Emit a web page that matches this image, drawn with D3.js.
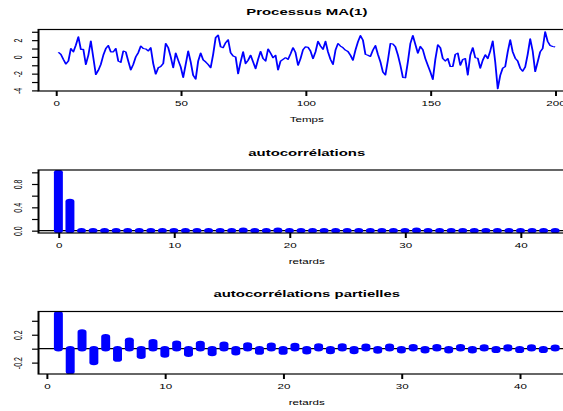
<!DOCTYPE html>
<html>
<head>
<meta charset="utf-8">
<script src="https://cdn.jsdelivr.net/npm/d3@7"></script>
<style>
  body { margin: 0; background: #fff; }
  svg { display: block; }
  text { font-family: "Liberation Sans", Arial, Helvetica, sans-serif; fill: #000; }
</style>
</head>
<body>
<svg id="fig"></svg>
<script>
// ---- data ----
const serie = [
   0.55,  0.3, -0.3, -0.85, -0.5,  1.0,  0.6,  1.4,  2.4,  0.9,
   0.9, -0.9,  0.2,  1.9, -0.1, -2.1, -1.6, -0.9,  0.2,  1.0,
   1.35, 0.6,  0.6,  1.0, -0.5, -0.65, 0.7,  0.6, -0.5, -1.55,
  -0.9,  0.0,  0.5,  1.3,  1.0,  0.95, 0.7,  1.1, -0.8, -2.05,
  -1.3, -1.15, -0.8, 1.6,  1.1,  0.0, -1.3,  0.45, -0.4, -1.2,
  -2.45, -0.9, 0.7, -0.6, -2.2, -2.65, -0.5, 0.45, -0.35, -0.6,
  -0.9, -1.3,  0.3,  2.3,  2.6,  1.2,  1.1,  1.7,  2.05, 0.5,
   0.1,  0.0, -2.0, -0.6,  0.6, -0.8, -0.4,  0.2, -0.6, -1.4,
  -0.3,  0.65, -0.2, -0.5, 0.95, 0.45, -0.1, 0.2, -1.55, -0.5,
  -0.3, -0.1, -0.3,  0.35, 1.1,  0.5, -1.0, -0.2,  0.85, 1.2,
   1.15, 0.7, -0.2,  0.6,  1.85, 1.3,  0.9,  1.85, 0.6, -0.3,
  -0.9,  0.8,  1.6,  1.3,  1.1,  0.8,  0.65, 0.2, -0.4,  0.8,
   1.8,  2.55, 2.0,  0.3,  0.2,  0.05, 0.8,  1.35, 0.3, -0.6,
  -1.8, -2.15, -0.4, 1.6,  1.55, 1.2,  0.25, -1.0, -2.45, -2.5,
  -0.6,  1.6,  2.55, 1.5,  0.45, 1.25, 0.85, -0.2, -1.0, -1.8,
  -2.7, -0.3,  1.45, 1.1, -0.2, -0.5, -0.2, -1.15, -1.15, 0.3,
   0.45, -1.0, -0.3, -0.2, -2.15, 0.2, 1.1, -0.1, -0.15, -1.35,
  -0.4,  0.25, -0.2, 0.7,  1.9, -0.6, -3.8, -2.2, -1.35, -1.15,
   0.6,  2.05, 0.6, -0.15, -0.5, -1.35, -1.7, -1.2, 0.3,  2.15,
   0.7, -1.75, -0.6, 0.6,  1.0,  3.0,  1.85, 1.35, 1.25, 1.2
];
const temps = d3.range(1, serie.length + 1);

const acfLags = d3.range(0, 44);
const acfVals = [
  1, 0.5, 0, 0, 0, 0, 0, 0, 0, 0,
  0, 0, 0, 0, 0, 0, 0.01, 0, 0, 0.01,
  0, 0, 0, 0, 0, 0, 0, 0, 0, 0,
  0, 0.01, 0, 0, 0, 0, 0, 0, 0, 0,
  0, 0, 0, 0
];

const pacfLags = d3.range(1, 44);
const pacfVals = [
  0.5, -0.33, 0.24, -0.2, 0.17, -0.15, 0.12, -0.11, 0.1, -0.09,
  0.08, -0.08, 0.075, -0.07, 0.065, -0.06, 0.055, -0.05, 0.05, -0.05,
  0.045, -0.045, 0.04, -0.04, 0.04, -0.04, 0.035, -0.035, 0.035, -0.03,
  0.03, -0.03, 0.03, -0.03, 0.03, -0.03, 0.025, -0.025, 0.025, -0.025,
  0.025, -0.025, 0.02
];

const tempsTicks = [0, 50, 100, 150, 200];
const lagTicks = [0, 10, 20, 30, 40];
const serieYTicks = [-4, -3, -2, -1, 0, 1, 2, 3];
const serieYLabels = [-4, -2, 0, 2];
const acfYTicks = [0, 0.2, 0.4, 0.6, 0.8, 1];
const acfYLabels = [0, 0.4, 0.8];
const pacfYTicks = [-0.2, 0, 0.2, 0.4];
const pacfYLabels = [-0.2, 0.2];

// ---- layout (the picture is stretched sideways, so draw narrow and stretch) ----
const S = 1.66;
const W = 563 / S, H = 411;
const left = 23.2, right = 346.4;

const svg = d3.select('#fig')
  .attr('width', 563)
  .attr('height', H)
  .attr('viewBox', `0 0 ${W} ${H}`)
  .attr('preserveAspectRatio', 'none');

function padded(ext) {
  const p = (ext[1] - ext[0]) * 0.04;
  return [ext[0] - p, ext[1] + p];
}

function panel(cfg) {
  const g = svg.append('g');

  const x = d3.scaleLinear().domain(padded(d3.extent(cfg.xs))).range([left, right]);
  const y = d3.scaleLinear().domain(padded(d3.extent(cfg.yExt))).range([cfg.bottom, cfg.top]);

  svg.append('clipPath').attr('id', 'clip' + cfg.id)
    .append('rect')
    .attr('x', left).attr('y', cfg.top)
    .attr('width', right - left).attr('height', cfg.bottom - cfg.top);

  const plot = g.append('g').attr('clip-path', `url(#clip${cfg.id})`);

  if (cfg.type === 'line') {
    const line = d3.line().x((d, i) => x(cfg.xs[i])).y(d => y(d));
    plot.append('path')
      .datum(cfg.ys)
      .attr('fill', 'none')
      .attr('stroke', '#0000ff')
      .attr('stroke-width', 1.1)
      .attr('stroke-linejoin', 'round')
      .attr('d', line);
  } else {
    plot.append('line')
      .attr('x1', left).attr('x2', right)
      .attr('y1', y(0)).attr('y2', y(0))
      .attr('stroke', '#000').attr('stroke-width', 1.2);
    plot.selectAll('line.bar')
      .data(cfg.ys)
      .join('line')
      .attr('class', 'bar')
      .attr('x1', (d, i) => x(cfg.xs[i]))
      .attr('x2', (d, i) => x(cfg.xs[i]))
      .attr('y1', y(0))
      .attr('y2', d => y(d))
      .attr('stroke', '#0000ff')
      .attr('stroke-width', 5.4)
      .attr('stroke-linecap', 'round');
  }

  // box
  g.append('rect')
    .attr('x', left).attr('y', cfg.top)
    .attr('width', right - left).attr('height', cfg.bottom - cfg.top)
    .attr('fill', 'none').attr('stroke', '#000').attr('stroke-width', 1.2);

  // x axis
  const xa = g.append('g')
    .attr('transform', `translate(0,${cfg.bottom})`)
    .call(d3.axisBottom(x).tickValues(cfg.xTicks).tickSize(5).tickPadding(5.5).tickFormat(d => String(d)));
  xa.select('.domain').remove();
  xa.selectAll('line').attr('stroke', '#000').attr('stroke-width', 1.2);
  xa.selectAll('text').attr('font-size', 7).attr('font-family', null);

  // y axis, labels turned like R
  const ya = g.append('g')
    .attr('transform', `translate(${left},0)`)
    .call(d3.axisLeft(y).tickValues(cfg.yTicks).tickSize(3.9)
      .tickFormat(d => cfg.yLabels.includes(d) ? cfg.fmt(d) : ''));
  ya.select('.domain').remove();
  ya.selectAll('line').attr('stroke', '#000').attr('stroke-width', 1.2);
  ya.selectAll('text')
    .attr('x', 0).attr('y', 0)
    .attr('dy', '0.35em')
    .attr('text-anchor', 'middle')
    .attr('transform', 'translate(-12.4,0) rotate(-90)')
    .attr('font-size', 7).attr('font-family', null);

  // titles
  g.append('text')
    .attr('x', (left + right) / 2).attr('y', cfg.top - 17.5)
    .attr('dy', '0.35em').attr('text-anchor', 'middle')
    .attr('font-size', 9).attr('font-weight', 'bold')
    .text(cfg.title);
  g.append('text')
    .attr('x', (left + right) / 2).attr('y', cfg.bottom + 28.5)
    .attr('dy', '0.35em').attr('text-anchor', 'middle')
    .attr('font-size', 7)
    .text(cfg.xlab);
}

const fmt1 = d => d.toFixed(1);

panel({
  id: 1, type: 'line', top: 29.5, bottom: 91,
  xs: temps, ys: serie, yExt: serie,
  xTicks: tempsTicks, yTicks: serieYTicks, yLabels: serieYLabels, fmt: d => String(d),
  title: 'Processus MA(1)', xlab: 'Temps'
});

panel({
  id: 2, type: 'bar', top: 170, bottom: 233,
  xs: acfLags, ys: acfVals, yExt: acfVals,
  xTicks: lagTicks, yTicks: acfYTicks, yLabels: acfYLabels, fmt: fmt1,
  title: 'autocorrélations', xlab: 'retards'
});

panel({
  id: 3, type: 'bar', top: 311.5, bottom: 374,
  xs: pacfLags, ys: pacfVals, yExt: pacfVals,
  xTicks: lagTicks, yTicks: pacfYTicks, yLabels: pacfYLabels, fmt: fmt1,
  title: 'autocorrélations partielles', xlab: 'retards'
});
</script>
</body>
</html>
